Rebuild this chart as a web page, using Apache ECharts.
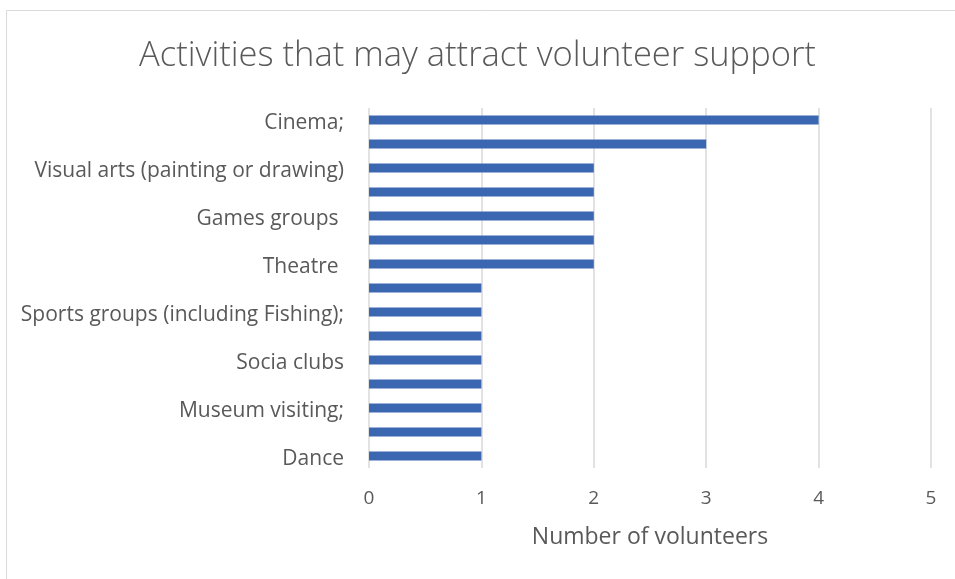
<!DOCTYPE html>
<html>
<head>
<meta charset="utf-8">
<script src="https://cdn.jsdelivr.net/npm/echarts@6/dist/echarts.min.js"></script>
<style>html,body{margin:0;padding:0;background:#fff}#c{width:955px;height:579px}</style>
</head>
<body>
<div id="c"></div>
<script>
var titleText = 'Activities that may attract volunteer support';
var axisTitle = 'Number of volunteers';
var categories = [
  'Cinema;', 'Activity 2', 'Visual arts (painting or drawing)', 'Activity 4',
  'Games groups ', 'Activity 6', 'Theatre ', 'Activity 8',
  'Sports groups (including Fishing);', 'Activity 10', 'Socia clubs', 'Activity 12',
  'Museum visiting;', 'Activity 14', 'Dance'
];
var values = [4, 3, 2, 2, 2, 2, 2, 1, 1, 1, 1, 1, 1, 1, 1];
var xTicks = [0, 1, 2, 3, 4, 5];

var font = '"Open Sans", sans-serif';
var chart = echarts.init(document.getElementById('c'));
chart.setOption({
  animation: false,
  backgroundColor: '#fff',
  title: {
    text: titleText, left: 'center', top: 34,
    textStyle: { fontFamily: font, fontWeight: 300, fontSize: 34.5, color: '#595959' }
  },
  graphic: [{
    type: 'rect', shape: { x: 6.5, y: 10.5, width: 1000, height: 1000 },
    style: { fill: 'none', stroke: '#d9d9d9', lineWidth: 1 }, silent: true
  }],
  grid: { left: 369, right: 24, top: 108, bottom: 111, containLabel: false },
  xAxis: {
    type: 'value', min: xTicks[0], max: xTicks[xTicks.length - 1], interval: 1,
    name: axisTitle, nameLocation: 'middle', nameGap: 58,
    nameTextStyle: { fontFamily: font, fontSize: 23, color: '#595959' },
    axisLine: { show: false }, axisTick: { show: false },
    axisLabel: { fontFamily: font, fontSize: 19, color: '#595959', margin: 21 },
    splitLine: { lineStyle: { color: '#d9d9d9', width: 1.5 } }
  },
  yAxis: {
    type: 'category', data: categories, inverse: true,
    axisLine: { show: false }, axisTick: { show: false },
    axisLabel: {
      interval: 1, margin: 25,
      formatter: function (v) { return '{a|' + v + '}'; },
      rich: { a: { fontFamily: font, fontSize: 21, color: '#595959', padding: [6, 0, 0, 0] } }
    }
  },
  series: [{
    type: 'bar', data: values, barWidth: 9,
    itemStyle: { color: '#3a67b0' }
  }]
});
</script>
</body>
</html>
